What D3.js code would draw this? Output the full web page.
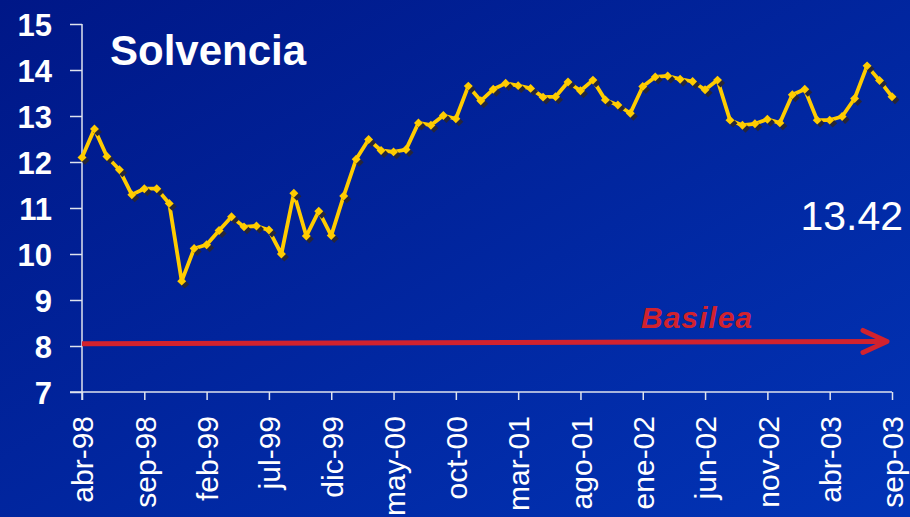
<!DOCTYPE html>
<html>
<head>
<meta charset="utf-8">
<script src="https://cdn.jsdelivr.net/npm/d3@7"></script>
<style>
  html, body { margin: 0; padding: 0; background: #001a8a; }
  #chart svg { display: block; }
</style>
</head>
<body>
<div id="chart"></div>
<script>
// Data
const months = [
    'abr-98', 'may-98', 'jun-98', 'jul-98', 'ago-98', 'sep-98', 'oct-98', 'nov-98', 'dic-98',
    'ene-99', 'feb-99', 'mar-99', 'abr-99', 'may-99', 'jun-99', 'jul-99', 'ago-99', 'sep-99', 'oct-99', 'nov-99', 'dic-99',
    'ene-00', 'feb-00', 'mar-00', 'abr-00', 'may-00', 'jun-00', 'jul-00', 'ago-00', 'sep-00', 'oct-00', 'nov-00', 'dic-00',
    'ene-01', 'feb-01', 'mar-01', 'abr-01', 'may-01', 'jun-01', 'jul-01', 'ago-01', 'sep-01', 'oct-01', 'nov-01', 'dic-01',
    'ene-02', 'feb-02', 'mar-02', 'abr-02', 'may-02', 'jun-02', 'jul-02', 'ago-02', 'sep-02', 'oct-02', 'nov-02', 'dic-02',
    'ene-03', 'feb-03', 'mar-03', 'abr-03', 'may-03', 'jun-03', 'jul-03', 'ago-03', 'sep-03'
];

const solvencia = [
    12.10, 12.72, 12.12, 11.83, 11.29, 11.42, 11.42, 11.10, 9.41,
    10.12, 10.20, 10.51, 10.81, 10.59, 10.61, 10.52, 10.00, 11.32, 10.39, 10.93, 10.40,
    11.26, 12.06, 12.49, 12.25, 12.22, 12.27, 12.85, 12.80, 13.01, 12.94, 13.65, 13.33,
    13.58, 13.71, 13.66, 13.60, 13.41, 13.42, 13.74, 13.55, 13.78, 13.35, 13.24, 13.06,
    13.64, 13.85, 13.87, 13.80, 13.75, 13.57, 13.78, 12.91, 12.80, 12.83, 12.93, 12.85,
    13.46, 13.58, 12.91, 12.91, 12.99, 13.38, 14.09, 13.77, 13.42
];

const xTickLabels = ['abr-98', 'sep-98', 'feb-99', 'jul-99', 'dic-99', 'may-00', 'oct-00',
    'mar-01', 'ago-01', 'ene-02', 'jun-02', 'nov-02', 'abr-03', 'sep-03'];
const yTicks = [7, 8, 9, 10, 11, 12, 13, 14, 15];

const basilea = [8.05, 8.1]; // arrow level, start / end
const lastValue = '13.42';

function draw() {
    const dataset = months.map((m, i) => ({ month: m, value: solvencia[i] }));

    // Dimension
    let dimensions = {
        width: 910,
        height: 517,
        left: 82,
        right: 892,
        top: 24,
        bottom: 392,
    };

    const font = '"Liberation Sans", Arial, Helvetica, sans-serif';

    const svg = d3.select('#chart')
        .append('svg')
        .attr('width', dimensions.width)
        .attr('height', dimensions.height)
        .style('font-family', font);

    // Background
    const defs = svg.append('defs');
    const grad = defs.append('linearGradient')
        .attr('id', 'bg')
        .attr('x1', 0).attr('y1', 0)
        .attr('x2', 1).attr('y2', 1);
    grad.append('stop').attr('offset', '0%').attr('stop-color', '#001787');
    grad.append('stop').attr('offset', '100%').attr('stop-color', '#0234b6');

    svg.append('rect')
        .attr('width', dimensions.width)
        .attr('height', dimensions.height)
        .attr('fill', 'url(#bg)');

    // Scales
    const xScale = d3.scalePoint()
        .domain(months)
        .range([dimensions.left, dimensions.right]);

    const yScale = d3.scaleLinear()
        .domain([7, 15])
        .range([dimensions.bottom, dimensions.top]);

    // Axis
    const axisColor = '#dfe3ee';

    const yAxisGroup = svg.append('g')
        .attr('transform', `translate(${dimensions.left}, 0)`);
    const yAxis = d3.axisLeft(yScale)
        .tickValues(yTicks)
        .tickSize(12)
        .tickSizeOuter(0)
        .tickPadding(18)
        .tickFormat(d3.format('d'));
    yAxisGroup.call(yAxis);
    yAxisGroup.select('.domain').remove();
    yAxisGroup.append('line')
        .attr('y1', dimensions.top)
        .attr('y2', dimensions.bottom + 8)
        .attr('stroke', axisColor)
        .attr('stroke-width', 1.5);
    yAxisGroup.selectAll('.tick line')
        .attr('stroke', axisColor)
        .attr('stroke-width', 1.5);
    yAxisGroup.selectAll('.tick text')
        .attr('fill', '#ffffff')
        .attr('font-size', 31)
        .attr('font-weight', 'bold')
        .attr('font-family', font)
        .attr('dy', '0.36em');

    const xAxisGroup = svg.append('g')
        .attr('transform', `translate(0, ${dimensions.bottom})`);
    const xAxis = d3.axisBottom(xScale)
        .tickValues(xTickLabels)
        .tickSize(8)
        .tickSizeOuter(0);
    xAxisGroup.call(xAxis);
    xAxisGroup.select('.domain').remove();
    xAxisGroup.append('line')
        .attr('x1', dimensions.left - 12)
        .attr('x2', dimensions.right)
        .attr('stroke', axisColor)
        .attr('stroke-width', 1.5);
    xAxisGroup.selectAll('.tick line')
        .attr('stroke', axisColor)
        .attr('stroke-width', 1.5);
    xAxisGroup.selectAll('.tick text')
        .attr('fill', '#ffffff')
        .attr('font-size', 30)
        .attr('font-family', font)
        .attr('text-anchor', 'end')
        .attr('transform', 'translate(0, 24) rotate(-90)')
        .attr('x', 0)
        .attr('y', 0)
        .attr('dy', '0.36em');

    // Basilea arrow
    const red = '#d1222e';
    const ax0 = dimensions.left, ay0 = yScale(basilea[0]);
    const ax1 = dimensions.right - 5, ay1 = yScale(basilea[1]);
    svg.append('line')
        .attr('x1', ax0).attr('y1', ay0)
        .attr('x2', ax1).attr('y2', ay1)
        .attr('stroke', red)
        .attr('stroke-width', 5);
    svg.append('path')
        .attr('d', `M${ax1 - 24},${ay1 - 11} L${ax1},${ay1} L${ax1 - 24},${ay1 + 11}`)
        .attr('fill', 'none')
        .attr('stroke', red)
        .attr('stroke-width', 5)
        .attr('stroke-linecap', 'round')
        .attr('stroke-linejoin', 'round');
    svg.append('text')
        .attr('x', 641)
        .attr('y', 328)
        .attr('fill', red)
        .attr('font-size', 30)
        .attr('font-weight', 'bold')
        .attr('font-style', 'italic')
        .attr('textLength', 111)
        .text('Basilea');

    // Line
    const lineGenerator = d3.line()
        .x(d => xScale(d.month))
        .y(d => yScale(d.value));

    svg.append('path')
        .datum(dataset)
        .attr('d', lineGenerator)
        .attr('fill', 'none')
        .attr('stroke', '#ffcc00')
        .attr('stroke-width', 3.8)
        .attr('stroke-linejoin', 'round');

    // Markers
    const marker = d3.symbol(d3.symbolSquare, 40);

    svg.append('g')
        .selectAll('path')
        .data(dataset)
        .join('path')
        .attr('d', marker)
        .attr('transform', d => `translate(${xScale(d.month) + 3}, ${yScale(d.value) + 3}) rotate(45)`)
        .attr('fill', '#26263a');

    svg.append('g')
        .selectAll('path')
        .data(dataset)
        .join('path')
        .attr('d', marker)
        .attr('transform', d => `translate(${xScale(d.month)}, ${yScale(d.value)}) rotate(45)`)
        .attr('fill', '#ffcc00');

    // Labels
    svg.append('text')
        .attr('x', 110)
        .attr('y', 65)
        .attr('fill', '#ffffff')
        .attr('font-size', 42)
        .attr('font-weight', 'bold')
        .text('Solvencia');

    svg.append('text')
        .attr('x', 903)
        .attr('y', 230)
        .attr('text-anchor', 'end')
        .attr('fill', '#ffffff')
        .attr('font-size', 41)
        .text(lastValue);
}

draw();
</script>
</body>
</html>
